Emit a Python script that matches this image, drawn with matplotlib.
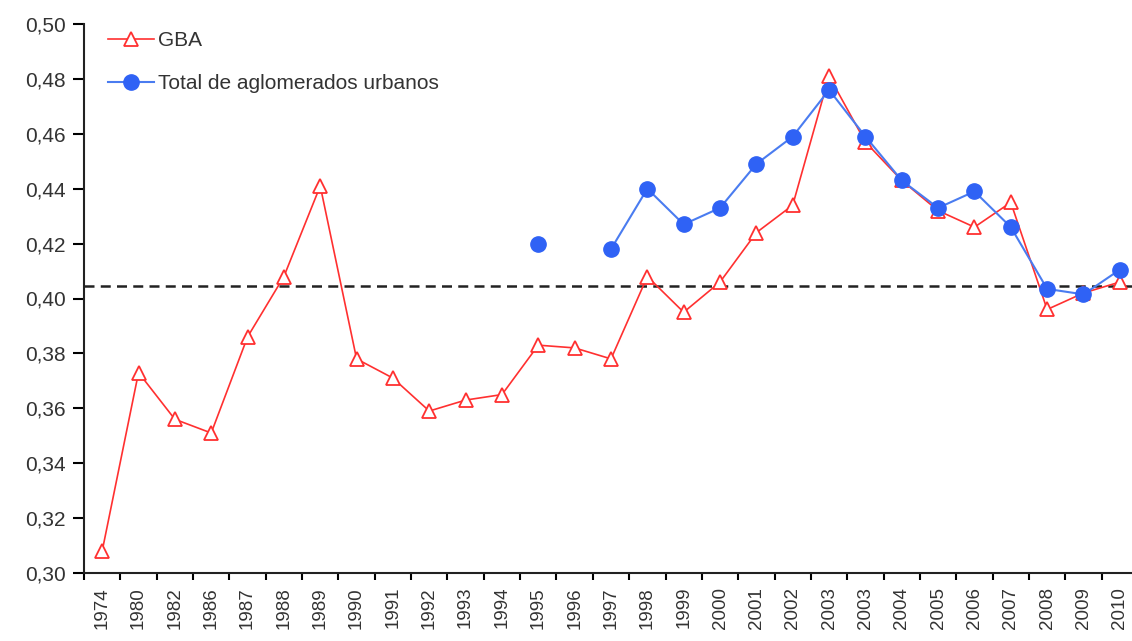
import numpy as np
import matplotlib
matplotlib.use("Agg")
import matplotlib.pyplot as plt
from matplotlib.ticker import FuncFormatter

plt.rcParams['font.family'] = ['Liberation Sans', 'DejaVu Sans']

years = ["1974", "1980", "1982", "1986", "1987", "1988", "1989", "1990", "1991",
         "1992", "1993", "1994", "1995", "1996", "1997", "1998", "1999", "2000",
         "2001", "2002", "2003", "2003", "2004", "2005", "2006", "2007", "2008",
         "2009", "2010"]

gba = [0.308, 0.373, 0.356, 0.351, 0.386, 0.408, 0.441, 0.378, 0.371,
       0.359, 0.363, 0.365, 0.383, 0.382, 0.378, 0.408, 0.395, 0.406,
       0.424, 0.434, 0.481, 0.457, 0.443, 0.432, 0.426, 0.435, 0.396,
       0.402, 0.406]

total = [np.nan, np.nan, np.nan, np.nan, np.nan, np.nan, np.nan, np.nan, np.nan,
         np.nan, np.nan, np.nan, 0.420, np.nan, 0.418, 0.440, 0.427, 0.433,
         0.449, 0.459, 0.476, 0.459, 0.443, 0.433, 0.439, 0.426, 0.4035,
         0.4015, 0.4105]

promedio = 0.4045

x = np.arange(len(years))

fig = plt.figure(figsize=(11.32, 6.41), dpi=100)
ax = fig.add_axes([84 / 1132, (641 - 573) / 641, (1138 - 84) / 1132, (573 - 24) / 641])

ax.plot(x, gba, color='#ff3030', lw=1.2, marker='^', markersize=10,
        markerfacecolor='white', markeredgecolor='#ff3030', markeredgewidth=1.3,
        label='GBA', zorder=3)
ax.plot(x, total, color='#4a7cf0', lw=1.5, marker='o', markersize=11,
        markerfacecolor='#2f62f5', markeredgecolor='#2f62f5',
        label='Total de aglomerados urbanos', zorder=4)
ax.axhline(promedio, color='#222222', lw=1.8, ls=(0, (4, 2.5)), zorder=2)

ax.set_ylim(0.30, 0.50)
ax.set_yticks(np.arange(0.30, 0.501, 0.02))
ax.yaxis.set_major_formatter(FuncFormatter(lambda v, p: f"{v:.2f}".replace('.', ',')))
ax.set_xlim(-0.5, len(years) - 0.5)
ax.set_xticks(x)
ax.set_xticklabels(years, rotation=90, fontsize=13.5, color='#333333')
ax.set_xticks(np.arange(-0.5, len(years), 1), minor=True)
ax.tick_params(axis='x', which='major', length=0, pad=10)
ax.tick_params(axis='x', which='minor', length=5, width=1.5, direction='out')
ax.tick_params(axis='y', length=8, width=1.5, direction='out', labelsize=15,
               labelcolor='#333333', pad=5)

for s in ['top', 'right']:
    ax.spines[s].set_visible(False)
for s in ['left', 'bottom']:
    ax.spines[s].set_linewidth(1.5)
    ax.spines[s].set_color('#222222')

fig.legend(*ax.get_legend_handles_labels(), loc='upper left',
           bbox_to_anchor=(108 / 1132, 1 - 31 / 641), bbox_transform=fig.transFigure,
           frameon=False, fontsize=15, borderpad=0, borderaxespad=0,
           handlelength=2.2, handletextpad=0.2, labelspacing=1.15,
           labelcolor='#333333')

fig.savefig("out.png", dpi=100)
